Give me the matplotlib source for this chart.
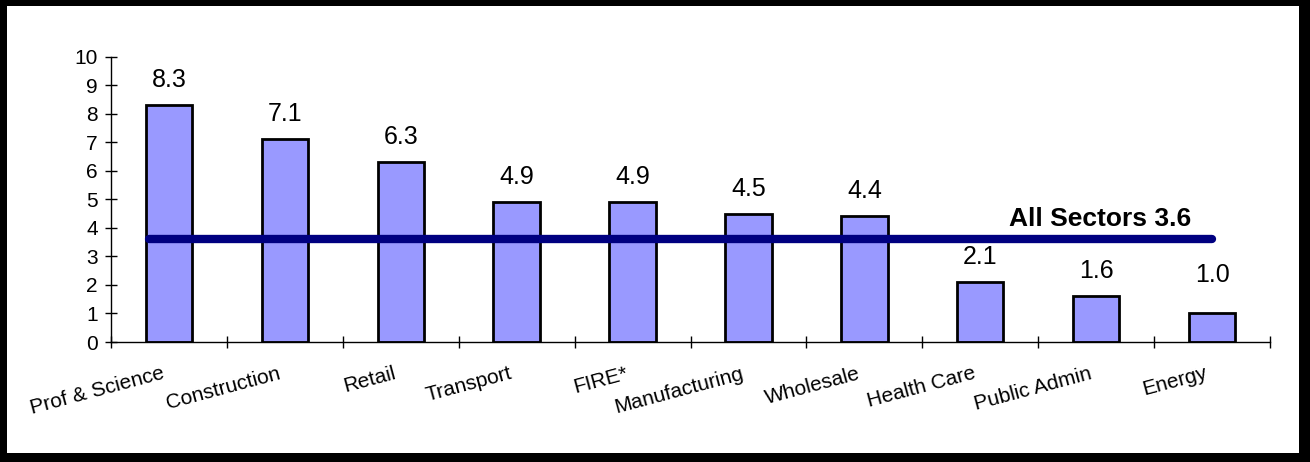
import matplotlib
matplotlib.use("Agg")
import matplotlib.pyplot as plt
from matplotlib.patches import Rectangle
import matplotlib.transforms as mtransforms

categories = ["Prof & Science", "Construction", "Retail", "Transport", "FIRE*",
              "Manufacturing", "Wholesale", "Health Care", "Public Admin", "Energy"]
values = [8.3, 7.1, 6.3, 4.9, 4.9, 4.5, 4.4, 2.1, 1.6, 1.0]
value_labels = ["8.3", "7.1", "6.3", "4.9", "4.9", "4.5", "4.4", "2.1", "1.6", "1.0"]
all_sectors = 3.6
all_sectors_label = "All Sectors 3.6"
y_ticks = list(range(0, 11))

plt.rcParams['font.family'] = ['Liberation Sans', 'DejaVu Sans']

W, H = 1310, 462
fig = plt.figure(figsize=(W / 100, H / 100), dpi=100)
fig.patch.set_facecolor('black')
# white inner panel (frame with shadow look)
fig.add_artist(Rectangle((7 / W, (H - 453) / H), (1299 - 7) / W, (453 - 6) / H,
                         transform=fig.transFigure, facecolor='white', edgecolor='none', zorder=0))

ax = fig.add_axes([111 / W, (H - 342) / H, (1270 - 111) / W, (342 - 56.7) / H])
ax.set_facecolor('none')

x = list(range(len(categories)))
ax.bar(x, values, width=0.40, color='#9999FF', edgecolor='black', linewidth=2, zorder=2)

ax.set_xlim(-0.5, len(categories) - 0.5)
ax.set_ylim(0, 10)
ax.set_yticks(y_ticks)
ax.set_yticklabels([str(t) for t in y_ticks], fontsize=15)
ax.set_xticks([i - 0.5 for i in range(len(categories) + 1)])
ax.set_xticklabels([])
ax.tick_params(axis='both', direction='inout', length=9, width=1, color='black')
ax.tick_params(axis='y', pad=5)
for s in ['top', 'right']:
    ax.spines[s].set_visible(False)
for s in ['left', 'bottom']:
    ax.spines[s].set_linewidth(1)
    ax.spines[s].set_color('black')

# value labels
for i, (v, lab) in enumerate(zip(values, value_labels)):
    extra = 13 if i == len(values) - 1 else 0
    off = mtransforms.offset_copy(ax.transData, fig=fig, x=0, y=(18 + extra) * 0.72, units='points')
    ax.text(i, v, lab, transform=off, ha='center', va='baseline', fontsize=18, zorder=4)

# category labels, rotated
for i, cat in enumerate(categories):
    trans = mtransforms.offset_copy(ax.get_xaxis_transform(), fig=fig,
                                    x=-5 * 0.72, y=-31 * 0.72, units='points')
    ax.text(i, 0, cat, transform=trans, rotation=15, rotation_mode='anchor',
            ha='right', va='center', fontsize=15)

# all sectors line
ax.plot([-0.17, 9.0], [all_sectors, all_sectors], color='#000080', linewidth=6,
        solid_capstyle='round', zorder=3)
ax.text(8.82, 4.05, all_sectors_label, ha='right', va='baseline', fontsize=19,
        fontweight='bold', zorder=4)

fig.savefig('out.png', dpi=100, facecolor=fig.get_facecolor())
